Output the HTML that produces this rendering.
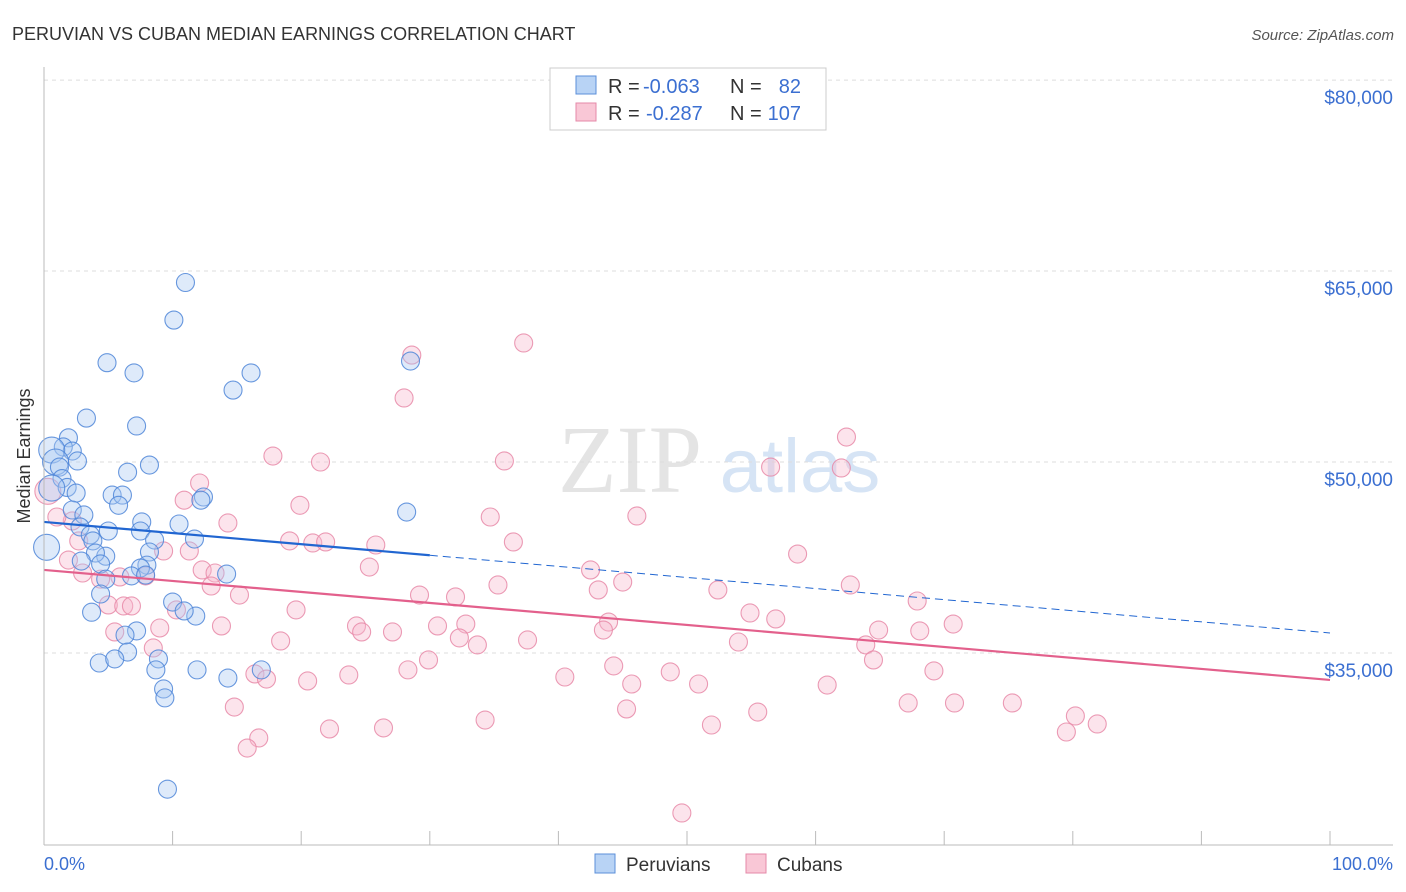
<!DOCTYPE html>
<html><head><meta charset="utf-8"><style>
body{margin:0;background:#fff;font-family:"Liberation Sans",sans-serif}
svg{display:block}
</style></head><body>
<svg id="c" width="1406" height="892">
<text x="12" y="40" font-size="18" fill="#333">PERUVIAN VS CUBAN MEDIAN EARNINGS CORRELATION CHART</text>
<text x="1394" y="40" font-size="15" fill="#555" font-style="italic" text-anchor="end">Source: ZipAtlas.com</text>
<text x="630" y="492" font-size="96" fill="#e4e4e4" font-family="Liberation Serif" text-anchor="middle">ZIP</text>
<text x="800" y="492" font-size="76" fill="#d6e4f5" text-anchor="middle">atlas</text>
<g id="grid"></g><g id="pts"></g><g id="trend"></g>
<line x1="44" y1="67" x2="44" y2="845" stroke="#bbb"/>
<line x1="44" y1="845" x2="1393" y2="845" stroke="#bbb"/>
<text x="30" y="456" font-size="18" fill="#333" text-anchor="middle" transform="rotate(-90 30 456)">Median Earnings</text>
<text x="44" y="870" font-size="18" fill="#3b6fd1">0.0%</text>
<text x="1393" y="870" font-size="18" fill="#3b6fd1" text-anchor="end">100.0%</text>
<g font-size="20">
<rect x="550" y="68" width="276" height="62" fill="#fff" stroke="#ccc"/>
<rect x="576" y="76" width="20" height="18" fill="#b8d3f5" stroke="#5b8fd9"/>
<rect x="576" y="103" width="20" height="18" fill="#f9c7d6" stroke="#e58aa8"/>
<text x="608" y="93" fill="#333">R =</text>
<text x="643" y="93" fill="#3b6fd1">-0.063</text>
<text x="730" y="93" fill="#333">N =</text>
<text x="801" y="93" fill="#3b6fd1" text-anchor="end">82</text>
<text x="608" y="120" fill="#333">R =</text>
<text x="646" y="120" fill="#3b6fd1">-0.287</text>
<text x="730" y="120" fill="#333">N =</text>
<text x="801" y="120" fill="#3b6fd1" text-anchor="end">107</text>
</g>
<g>
<rect x="595" y="854" width="20" height="19" fill="#b8d3f5" stroke="#5b8fd9"/>
<text x="626" y="871" font-size="19" fill="#333">Peruvians</text>
<rect x="746" y="854" width="20" height="19" fill="#f9c7d6" stroke="#e58aa8"/>
<text x="777" y="871" font-size="19" fill="#333">Cubans</text>
</g>
</svg>
<script>
const yTicks=[80000,65000,50000,35000];
const yTickLabels=["$80,000","$65,000","$50,000","$35,000"];
const xTicks=[0,10,20,30,40,50,60,70,80,90,100];
const peruX=[11.0,10.1,4.9,7.0,16.1,14.7,28.5,3.3,7.2,1.9,1.5,2.2,0.6,0.9,2.6,1.2,8.2,6.5,1.4,1.8,0.6,2.5,5.3,6.1,12.4,12.2,5.8,28.2,2.2,3.1,7.6,10.5,2.8,5.0,7.5,0.2,3.6,3.8,11.7,8.6,8.2,4.8,4.0,2.9,4.4,8.0,7.5,14.2,6.8,4.8,7.9,4.4,10.0,3.7,11.8,10.9,7.2,6.3,6.5,4.3,5.5,8.9,8.7,11.9,14.3,16.9,9.3,9.4,9.6];
const peruY=[64100,61150,57800,57000,57000,55650,57930,53450,52830,51900,51180,50860,50940,50000,50080,49600,49760,49200,48700,48000,47950,47560,47400,47400,47250,47000,46600,46070,46230,45840,45290,45130,44900,44580,44580,43300,44270,43800,43950,43870,42930,42600,42850,42220,41990,41900,41670,41200,41050,40800,41120,39630,39000,38200,37900,38300,36730,36400,35070,34210,34530,34530,33670,33670,33030,33670,32170,31470,24300];
const cubaX=[37.3,28.6,28.0,62.4,17.8,21.5,35.8,56.5,62.0,12.1,0.3,10.9,19.9,34.7,46.1,14.3,2.2,1.0,19.1,20.9,21.9,36.5,25.8,2.7,9.3,11.3,58.6,1.9,25.3,42.5,12.3,13.3,3.0,5.9,7.9,4.4,45.0,35.3,13.0,62.7,43.1,52.4,29.2,32.0,15.2,67.9,5.0,6.2,6.8,10.3,19.6,54.9,56.9,70.7,43.9,32.8,30.6,13.8,9.0,24.3,24.7,27.1,43.5,64.9,68.1,5.5,32.3,37.6,18.4,33.7,54.0,63.9,8.5,29.9,64.5,44.3,28.3,69.2,48.7,16.4,23.7,40.5,17.3,20.5,45.7,50.9,60.9,14.8,45.3,67.2,70.8,75.3,55.5,80.2,81.9,79.5,34.3,51.9,22.2,26.4,16.7,15.8,49.6];
const cubaY=[59350,58400,55030,51960,50470,50000,50080,49600,49530,48350,47700,47000,46600,45680,45760,45210,45370,45680,43800,43640,43720,43720,43480,43800,43010,43010,42770,42300,41750,41520,41520,41280,41280,40970,41050,40800,40570,40340,40260,40340,39950,39950,39550,39400,39550,39080,38770,38690,38690,38380,38380,38140,37670,37270,37430,37270,37120,37120,36960,37120,36650,36650,36800,36800,36730,36650,36180,36020,35940,35630,35860,35630,35390,34450,34450,33980,33670,33590,33510,33350,33270,33110,32950,32800,32560,32560,32480,30750,30600,31070,31070,31070,30360,30050,29420,28790,29730,29340,29030,29110,28320,27530,22430];
const peruTrend=[45290,36570];
const cubaTrend=[41520,32880];
const sx=v=>44+v*12.86;
const sy=v=>462-(v-50000)/1000*12.73;
const NS="http://www.w3.org/2000/svg";
function mk(t,a,p){const e=document.createElementNS(NS,t);for(const k in a)e.setAttribute(k,a[k]);p.appendChild(e);return e;}
const grid=document.getElementById('grid');
yTicks.forEach((v,i)=>{
 const l=mk('line',{x1:44,x2:1393,y1:sy(v),y2:sy(v),stroke:'#ddd','stroke-dasharray':'4,4'},grid);
 
 
 const t=mk('text',{x:1393,y:sy(v)+24,'font-size':19,fill:'#3b6fd1','text-anchor':'end'},grid);
 t.textContent=yTickLabels[i];
 
 
});
xTicks.forEach(v=>{
 const l=mk('line',{x1:sx(v),x2:sx(v),y1:831,y2:845,stroke:'#bbb'},grid);
 
 
});
const pts=document.getElementById('pts');
function dots(X,Y,f,s,name){X.forEach((x,i)=>{
 const r=(x<1)?13:9;
 const c=mk('circle',{cx:sx(x),cy:sy(Y[i]),r:r,fill:f,'fill-opacity':0.38,stroke:s,'stroke-width':1.1,'stroke-opacity':0.85},pts);
 
 
});}
dots(cubaX,cubaY,'#f7b8cc','#e88aa8','cuban-point');
dots(peruX,peruY,'#a9c9f1','#4f86d8','peruvian-point');
const tr=document.getElementById('trend');
const py=x=>peruTrend[0]+(peruTrend[1]-peruTrend[0])*x/100;
let a=mk('line',{x1:sx(0),y1:sy(py(0)),x2:sx(30),y2:sy(py(30)),stroke:'#2166d1','stroke-width':2.2},tr);


a=mk('line',{x1:sx(30),y1:sy(py(30)),x2:sx(100),y2:sy(py(100)),stroke:'#2166d1','stroke-width':1,'stroke-dasharray':'8,5'},tr);


a=mk('line',{x1:sx(0),y1:sy(cubaTrend[0]),x2:sx(100),y2:sy(cubaTrend[1]),stroke:'#e3608c','stroke-width':2.2},tr);


</script>
</body></html>
